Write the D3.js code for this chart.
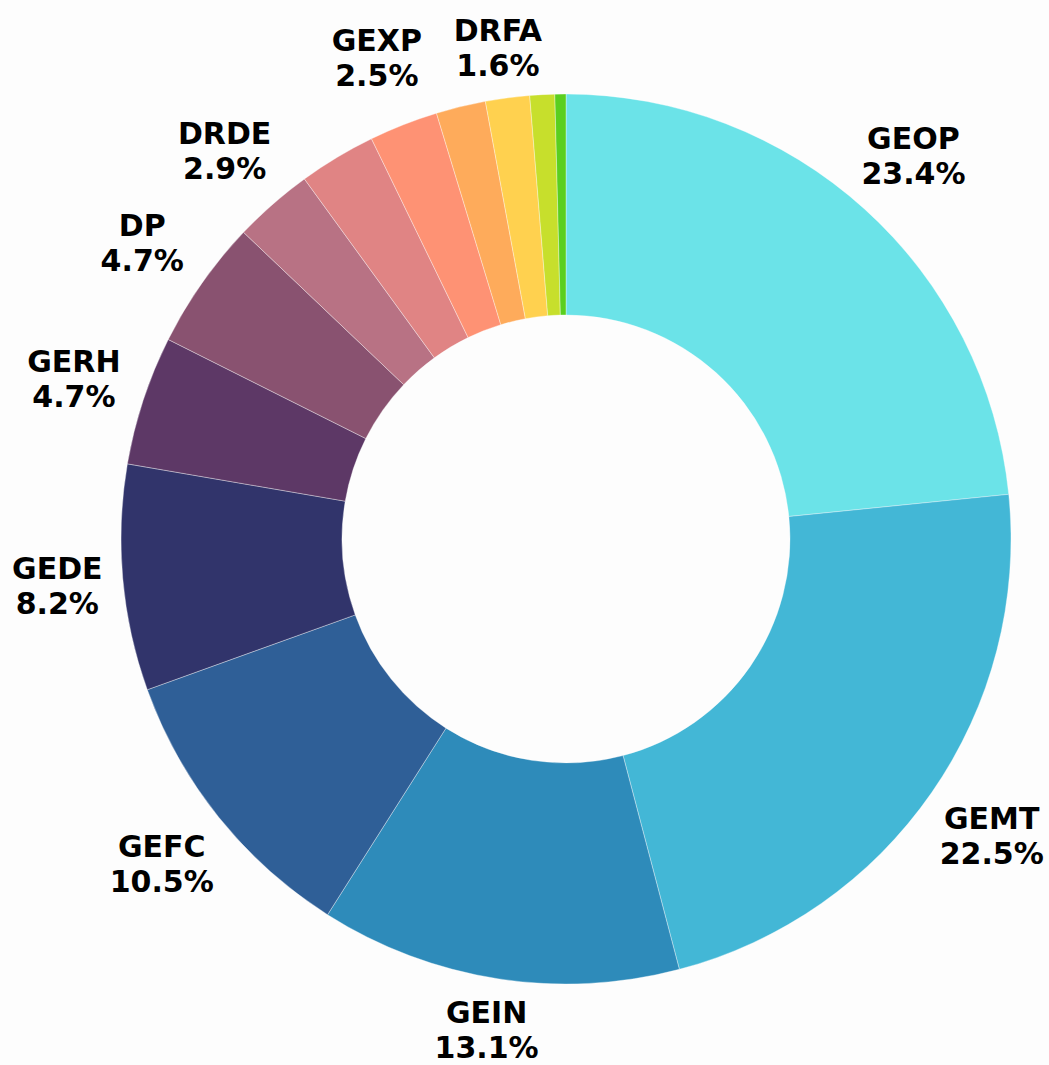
<!DOCTYPE html>
<html>
<head>
<meta charset="utf-8">
<script src="https://cdn.jsdelivr.net/npm/d3@7"></script>
<style>
html,body{margin:0;padding:0;background:#fdfdfd;}
svg{display:block;}
</style>
</head>
<body>
<svg id="chart" width="1049" height="1065"></svg>
<script>
const categories = ["GEOP","GEMT","GEIN","GEFC","GEDE","GERH","DP","DRDE","","GEXP","","DRFA","",""];
const values = [23.4,22.5,13.1,10.5,8.2,4.7,4.7,2.9,2.8,2.5,1.8,1.6,0.9,0.4];
const percentLabels = ["23.4%","22.5%","13.1%","10.5%","8.2%","4.7%","4.7%","2.9%","","2.5%","","1.6%","",""];
const colors = ["#6be3e8","#43b7d6","#2e8bba","#2f5f97","#31346b","#5d3866","#895270","#b87284","#e08484","#fe9274","#feab5b","#ffd14f","#c7df2c","#5acf1f"];

const W = 1049, H = 1065;
const cx = 566, cy = 539;
const outerR = 445, innerR = 224, labelR = 518;

const svg = d3.select("#chart");
const g = svg.append("g").attr("transform", `translate(${cx},${cy})`);

const data = values.map((v,i)=>({name:categories[i], value:v, pct:percentLabels[i], color:colors[i]}));
const pie = d3.pie().value(d=>d.value).sort(null);
const arcs = pie(data);
const arc = d3.arc().innerRadius(innerR).outerRadius(outerR);

g.selectAll("path.slice").data(arcs).enter().append("path")
  .attr("class","slice")
  .attr("d", arc)
  .attr("fill", d=>d.data.color)
  .attr("stroke", "rgba(255,255,255,0.6)")
  .attr("stroke-width", 0.6);

const labelArc = d3.arc().innerRadius(labelR).outerRadius(labelR);
const lab = g.selectAll("g.lab").data(arcs.filter(d=>d.data.name)).enter().append("g").attr("class","lab");
lab.append("text").attr("y",-5.5).attr("text-anchor","middle")
  .style("font-family","'DejaVu Sans', sans-serif").style("font-weight","bold").style("font-size","30px")
  .attr("fill","#000").text(d=>d.data.name);
lab.append("text").attr("y",29.5).attr("text-anchor","middle")
  .style("font-family","'DejaVu Sans', sans-serif").style("font-weight","bold").style("font-size","30px")
  .attr("fill","#000").text(d=>d.data.pct);

lab.attr("transform", function(d){
  let [x,y] = labelArc.centroid(d);
  const bb = this.getBBox();
  const half = bb.width/2;
  // keep block inside canvas
  const top = cy + y - 29.5, bottom = cy + y + 29.5;
  if (top < 17) y += 17 - top;
  if (bottom > 1058) y -= bottom - 1058;
  const left = cx + x - half, right = cx + x + half;
  if (left < 12) x += 12 - left;
  if (right > W - 4) x -= right - (W - 4);
  return `translate(${x},${y})`;
});
</script>
</body>
</html>
